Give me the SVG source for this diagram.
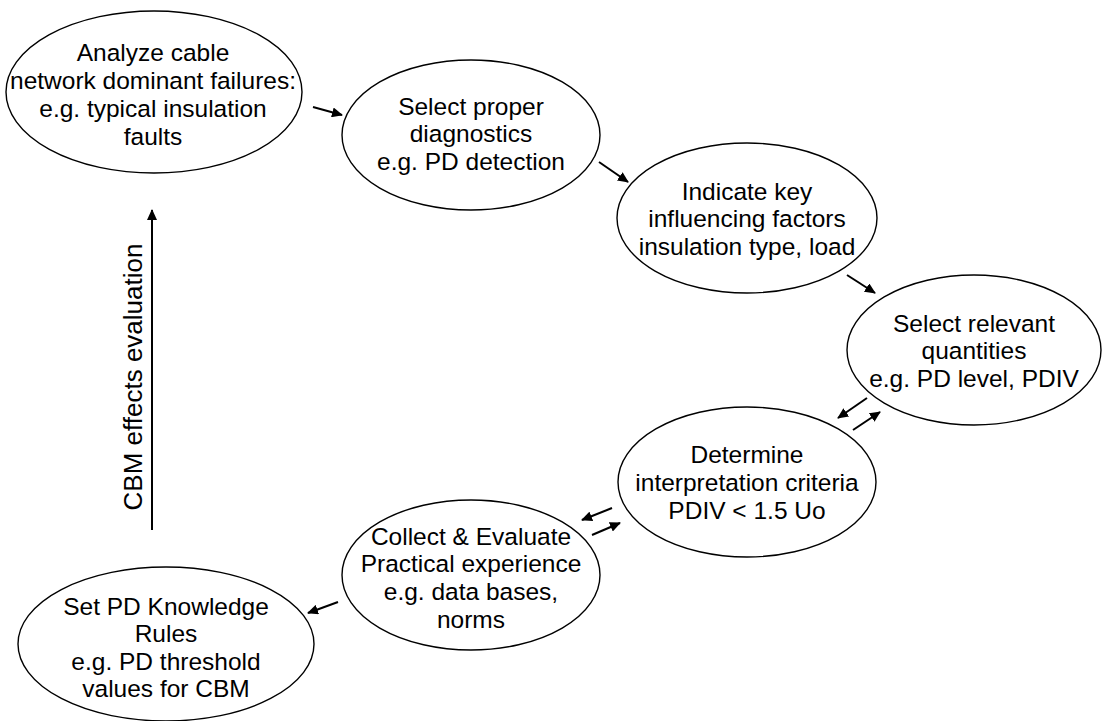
<svg xmlns="http://www.w3.org/2000/svg" width="1103" height="721" viewBox="0 0 1103 721">
<style>
.n ellipse{fill:#fff;stroke:#000;stroke-width:1.4}
.n text{font-family:"Liberation Sans",Arial,sans-serif;font-size:24.5px;fill:#000;text-anchor:middle}
.c line{stroke:#000;stroke-width:2;fill:none}
.lbl{font-family:"Liberation Sans",Arial,sans-serif;font-size:26px;fill:#000;text-anchor:middle}
</style>
<defs>
<marker id="ah" viewBox="0 0 11 10" refX="10" refY="5" markerWidth="11" markerHeight="10" markerUnits="userSpaceOnUse" orient="auto">
<path d="M0,0 L11,5 L0,10 Z" fill="#000"/>
</marker>
</defs>
<rect width="1103" height="721" fill="#fff"/>
<g id="n1" class="n">
<ellipse cx="154" cy="92" rx="148" ry="81"/>
<text x="153" y="61">Analyze cable</text>
<text x="153" y="89">network dominant failures:</text>
<text x="153" y="117">e.g. typical insulation</text>
<text x="153" y="145">faults</text>
</g>
<g id="n2" class="n">
<ellipse cx="471" cy="135" rx="129" ry="75"/>
<text x="471" y="115">Select proper</text>
<text x="471" y="142">diagnostics</text>
<text x="471" y="170">e.g. PD detection</text>
</g>
<g id="n3" class="n">
<ellipse cx="747" cy="218" rx="130" ry="75"/>
<text x="747" y="200">Indicate key</text>
<text x="747" y="227">influencing factors</text>
<text x="747" y="255">insulation type, load</text>
</g>
<g id="n4" class="n">
<ellipse cx="974" cy="350" rx="127" ry="75"/>
<text x="974" y="332">Select relevant</text>
<text x="974" y="359">quantities</text>
<text x="974" y="387">e.g. PD level, PDIV</text>
</g>
<g id="n5" class="n">
<ellipse cx="747" cy="482" rx="129" ry="75"/>
<text x="747" y="463">Determine</text>
<text x="747" y="491">interpretation criteria</text>
<text x="747" y="519">PDIV &lt; 1.5 Uo</text>
</g>
<g id="n6" class="n">
<ellipse cx="471" cy="575" rx="129" ry="75"/>
<text x="471" y="545">Collect &amp; Evaluate</text>
<text x="471" y="572">Practical experience</text>
<text x="471" y="600">e.g. data bases,</text>
<text x="471" y="628">norms</text>
</g>
<g id="n7" class="n">
<ellipse cx="166" cy="644" rx="148" ry="77"/>
<text x="166" y="615">Set PD Knowledge</text>
<text x="166" y="642">Rules</text>
<text x="166" y="670">e.g. PD threshold</text>
<text x="166" y="697">values for CBM</text>
</g>
<g id="connectors" class="c">
<line x1="313" y1="107" x2="342" y2="115" marker-end="url(#ah)"/>
<line x1="599" y1="162" x2="628" y2="182" marker-end="url(#ah)"/>
<line x1="847" y1="275" x2="875" y2="293" marker-end="url(#ah)"/>
<line x1="867" y1="398" x2="838" y2="418" marker-end="url(#ah)"/>
<line x1="853" y1="430" x2="880" y2="412" marker-end="url(#ah)"/>
<line x1="612" y1="508" x2="582" y2="520" marker-end="url(#ah)"/>
<line x1="592" y1="535" x2="620" y2="523" marker-end="url(#ah)"/>
<line x1="338" y1="602" x2="308" y2="613" marker-end="url(#ah)"/>
<line x1="152" y1="530" x2="152" y2="210" marker-end="url(#ah)"/>
</g>
<text class="lbl" transform="translate(142,377) rotate(-90)">CBM effects evaluation</text>
</svg>
